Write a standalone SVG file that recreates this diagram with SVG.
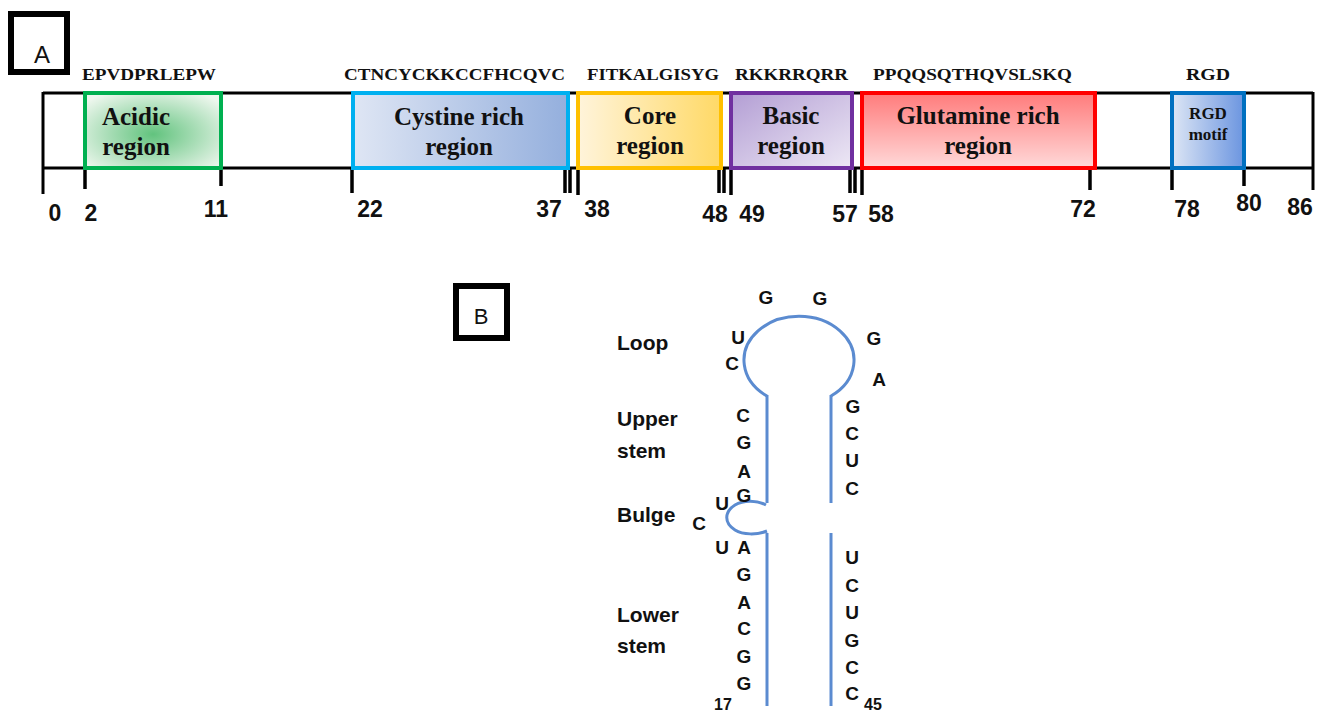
<svg xmlns="http://www.w3.org/2000/svg" width="1320" height="712" viewBox="0 0 1320 712">
<style>
.seq{font-family:"Liberation Serif",serif;font-weight:bold;font-size:17px;fill:#111}
.reg{font-family:"Liberation Serif",serif;font-weight:bold;font-size:25px;fill:#111;text-anchor:middle}
.reg.small{font-size:17px}
.num{font-family:"Liberation Sans",sans-serif;font-weight:bold;font-size:23px;fill:#111;text-anchor:middle}
.nt{font-family:"Liberation Sans",sans-serif;font-weight:bold;font-size:19px;fill:#111;text-anchor:middle}
.nt.sub{font-size:16px}
.lab{font-family:"Liberation Sans",sans-serif;font-weight:bold;font-size:21px;fill:#111}
.pan{fill:#fff;stroke:#000;stroke-width:6}
.bar{stroke:#000;stroke-width:3;fill:none}
.tick{stroke:#000;stroke-width:3.5}
.rna{stroke:#5b8bd0;stroke-width:3;fill:none}
.box{stroke-width:4}
</style>
<defs>
<radialGradient id="gAc" cx="0.5" cy="0.55" r="0.65">
<stop offset="0" stop-color="#62c37e"/><stop offset="1" stop-color="#eef7ee"/>
</radialGradient>
<linearGradient id="gCy" x1="0" y1="0" x2="1" y2="0">
<stop offset="0" stop-color="#dfe6f4"/><stop offset="1" stop-color="#94afdd"/>
</linearGradient>
<linearGradient id="gCo" x1="0" y1="0" x2="1" y2="0">
<stop offset="0" stop-color="#fff4db"/><stop offset="1" stop-color="#ffd966"/>
</linearGradient>
<linearGradient id="gBa" x1="0" y1="0" x2="1" y2="1">
<stop offset="0" stop-color="#b39ed4"/><stop offset="1" stop-color="#ede8f5"/>
</linearGradient>
<linearGradient id="gGl" x1="0" y1="0" x2="0" y2="1">
<stop offset="0" stop-color="#ff7b7b"/><stop offset="1" stop-color="#ffd9d9"/>
</linearGradient>
<linearGradient id="gRg" x1="0" y1="0" x2="1" y2="0">
<stop offset="0" stop-color="#dde6f5"/><stop offset="1" stop-color="#6b95e0"/>
</linearGradient>
</defs>
<rect width="1320" height="712" fill="#fff"/>

<g id="panelA">
<rect class="pan" x="11" y="14" width="56" height="58"/>
<text x="42" y="63" font-family="Liberation Sans,sans-serif" font-size="24" text-anchor="middle" fill="#111">A</text>
</g>

<g id="connectors">
<line class="bar" x1="43" y1="93" x2="1313" y2="93"/>
<line class="bar" x1="43" y1="168" x2="1313" y2="168"/>
<line class="bar" x1="43" y1="92" x2="43" y2="194"/>
<line class="bar" x1="1313" y1="92" x2="1313" y2="190"/>
<g class="tick">
<line x1="85" y1="165" x2="85" y2="189"/>
<line x1="221" y1="168" x2="221" y2="186"/>
<line x1="352" y1="168" x2="352" y2="193"/>
<line x1="565" y1="168" x2="565" y2="193"/>
<line x1="570" y1="168" x2="570" y2="193"/>
<line x1="578" y1="168" x2="578" y2="195"/>
<line x1="719" y1="168" x2="719" y2="193"/>
<line x1="724" y1="168" x2="724" y2="193"/>
<line x1="731" y1="168" x2="731" y2="195"/>
<line x1="850" y1="168" x2="850" y2="193"/>
<line x1="855" y1="168" x2="855" y2="193"/>
<line x1="862" y1="168" x2="862" y2="195"/>
<line x1="1090" y1="168" x2="1090" y2="190"/>
<line x1="1172" y1="168" x2="1172" y2="190"/>
<line x1="1244" y1="168" x2="1244" y2="186"/>
</g>
</g>

<g id="acidic">
<rect class="box" x="85" y="93" width="136" height="75" fill="url(#gAc)" stroke="#00b050"/>
<text class="reg" x="136" y="125">Acidic</text>
<text class="reg" x="136" y="155">region</text>
<text class="seq" x="82" y="80" textLength="134" lengthAdjust="spacingAndGlyphs">EPVDPRLEPW</text>
</g>
<g id="cystine">
<rect class="box" x="353" y="93" width="215" height="75" fill="url(#gCy)" stroke="#00b0f0"/>
<text class="reg" x="459" y="125">Cystine rich</text>
<text class="reg" x="459" y="155">region</text>
<text class="seq" x="344" y="80" textLength="221" lengthAdjust="spacingAndGlyphs">CTNCYCKKCCFHCQVC</text>
</g>
<g id="core">
<rect class="box" x="578" y="93" width="143" height="75" fill="url(#gCo)" stroke="#ffc000"/>
<text class="reg" x="650" y="124">Core</text>
<text class="reg" x="650" y="154">region</text>
<text class="seq" x="587" y="80" textLength="132" lengthAdjust="spacingAndGlyphs">FITKALGISYG</text>
</g>
<g id="basic">
<rect class="box" x="731" y="93" width="121" height="75" fill="url(#gBa)" stroke="#7030a0"/>
<text class="reg" x="791" y="124">Basic</text>
<text class="reg" x="791" y="154">region</text>
<text class="seq" x="735" y="80" textLength="113" lengthAdjust="spacingAndGlyphs">RKKRRQRR</text>
</g>
<g id="glutamine">
<rect class="box" x="862" y="93" width="233" height="75" fill="url(#gGl)" stroke="#ff0000"/>
<text class="reg" x="978" y="124">Glutamine rich</text>
<text class="reg" x="978" y="154">region</text>
<text class="seq" x="873" y="80" textLength="199" lengthAdjust="spacingAndGlyphs">PPQQSQTHQVSLSKQ</text>
</g>
<g id="rgd">
<rect class="box" x="1172" y="93" width="72" height="75" fill="url(#gRg)" stroke="#0070c0"/>
<text class="reg small" x="1208" y="119">RGD</text>
<text class="reg small" x="1208" y="140">motif</text>
<text class="seq" x="1186" y="80" textLength="44" lengthAdjust="spacingAndGlyphs">RGD</text>
</g>

<g id="positions">
<text class="num" x="55" y="221">0</text>
<text class="num" x="91" y="221">2</text>
<text class="num" x="216" y="217">11</text>
<text class="num" x="370" y="217">22</text>
<text class="num" x="549" y="217">37</text>
<text class="num" x="597" y="217">38</text>
<text class="num" x="715" y="222">48</text>
<text class="num" x="752" y="222">49</text>
<text class="num" x="845" y="222">57</text>
<text class="num" x="881" y="222">58</text>
<text class="num" x="1083" y="217">72</text>
<text class="num" x="1187" y="217">78</text>
<text class="num" x="1249" y="211">80</text>
<text class="num" x="1300" y="215">86</text>
</g>

<g id="panelB">
<rect class="pan" x="456" y="286" width="51" height="52"/>
<text x="481" y="324" font-family="Liberation Sans,sans-serif" font-size="22" text-anchor="middle" fill="#111">B</text>
</g>

<g id="labels">
<text class="lab" x="617" y="350">Loop</text>
<text class="lab" x="617" y="426">Upper</text>
<text class="lab" x="617" y="458">stem</text>
<text class="lab" x="617" y="522">Bulge</text>
<text class="lab" x="617" y="622">Lower</text>
<text class="lab" x="617" y="653">stem</text>
</g>

<g id="hairpin">
<path class="rna" d="M767 396 A55 44 0 1 1 831 396"/>
<line class="rna" x1="767" y1="395" x2="767" y2="503"/>
<line class="rna" x1="831" y1="395" x2="831" y2="503"/>
<path class="rna" d="M766 505 C757 500,743 500,735 505 C724 512,724 523,735 530 C743 535,757 535,767 531"/>
<line class="rna" x1="767" y1="533" x2="767" y2="706"/>
<line class="rna" x1="831" y1="533" x2="831" y2="706"/>
</g>

<g id="nucleotides">
<text class="nt" x="766" y="304">G</text>
<text class="nt" x="820" y="305">G</text>
<text class="nt" x="738" y="344">U</text>
<text class="nt" x="732" y="370">C</text>
<text class="nt" x="874" y="345">G</text>
<text class="nt" x="879" y="386">A</text>
<text class="nt" x="743" y="422">C</text>
<text class="nt" x="744" y="449">G</text>
<text class="nt" x="744" y="478">A</text>
<text class="nt" x="744" y="502">G</text>
<text class="nt" x="722" y="510">U</text>
<text class="nt" x="699" y="530">C</text>
<text class="nt" x="722" y="554">U</text>
<text class="nt" x="744" y="554">A</text>
<text class="nt" x="744" y="581">G</text>
<text class="nt" x="744" y="609">A</text>
<text class="nt" x="744" y="635">C</text>
<text class="nt" x="744" y="663">G</text>
<text class="nt" x="744" y="690">G</text>
<text class="nt sub" x="723" y="710">17</text>
<text class="nt" x="853" y="413">G</text>
<text class="nt" x="852" y="440">C</text>
<text class="nt" x="852" y="467">U</text>
<text class="nt" x="852" y="495">C</text>
<text class="nt" x="852" y="564">U</text>
<text class="nt" x="852" y="592">C</text>
<text class="nt" x="852" y="619">U</text>
<text class="nt" x="852" y="647">G</text>
<text class="nt" x="852" y="674">C</text>
<text class="nt" x="852" y="700">C</text>
<text class="nt sub" x="873" y="710">45</text>
</g>
</svg>
